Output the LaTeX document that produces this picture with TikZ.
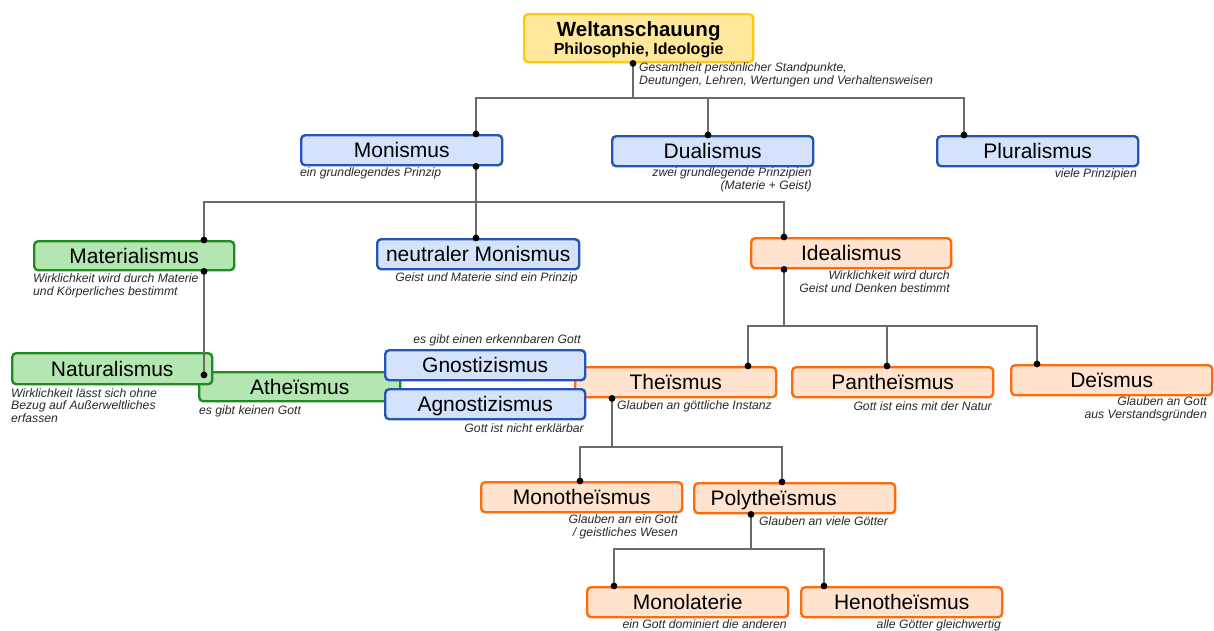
\documentclass[tikz,border=0pt]{standalone}
\usepackage{fontspec}
\setmainfont{Liberation Sans}
\definecolor{fillblue}{HTML}{D4E3FB}
\definecolor{drawblue}{HTML}{2455B5}
\definecolor{fillgreen}{HTML}{B4E6B2}
\definecolor{drawgreen}{HTML}{1F8C22}
\definecolor{fillorange}{HTML}{FFE3CF}
\definecolor{draworange}{HTML}{FF6A0A}
\definecolor{fillyellow}{HTML}{FFE89B}
\definecolor{drawyellow}{HTML}{FFC80A}
\definecolor{linegray}{HTML}{6A6A6A}
\definecolor{notegray}{HTML}{2A2A2A}
\tikzset{
  box/.style={rectangle, rounded corners=4pt, line width=2.4pt, minimum width=201pt,
    minimum height=30pt, inner sep=0pt, anchor=north west, text=black,
    font=\fontsize{21}{21}\selectfont, text height=15pt, text depth=0pt},
  bluebox/.style={box, draw=drawblue, fill=fillblue},
  greenbox/.style={box, draw=drawgreen, fill=fillgreen},
  orangebox/.style={box, draw=draworange, fill=fillorange},
  yellowbox/.style={rectangle, rounded corners=4pt, line width=2.4pt, inner sep=0pt,
    anchor=north west, draw=drawyellow, fill=fillyellow, text=black, align=center,
    font=\bfseries\fontsize{16}{17.3}\selectfont, text depth=0pt},
  note/.style={font=\itshape\fontsize{12.2}{12.3}\selectfont, text=notegray, inner sep=0pt},
  noteL/.style={note, align=left, anchor=base west},
  noteR/.style={note, align=right, anchor=base east},
  conn/.style={draw=linegray, line width=2.6pt},
  jdot/.style={fill=black}
}
\begin{document}
\begin{tikzpicture}[x=1pt,y=-1pt]
\useasboundingbox (0,0) rectangle (1214,630);
\fill[white] (0,0) rectangle (1214,630);

% boxes
\node[yellowbox, minimum width=229pt, minimum height=48pt] (welt) at (523,13)
  {{\fontsize{20.5}{17.3}\selectfont Weltanschauung}\\Philosophie, Ideologie};
\node[bluebox] (mon) at (300,134) {Monismus};
\node[bluebox] (dual) at (611,135) {Dualismus};
\node[bluebox] (plur) at (936,135) {Pluralismus};
\node[greenbox, minimum width=200pt, minimum height=29pt] (mat) at (33,240) {Materialismus};
\node[bluebox, minimum width=202pt] (neut) at (376,238) {neutraler Monismus};
\node[orangebox, minimum width=200pt] (ideal) at (750,237) {Idealismus};
\node[greenbox, minimum height=29pt] (ath) at (198,371) {Atheïsmus};
\node[greenbox, minimum width=200pt, minimum height=31pt] (nat) at (11,352) {Naturalismus};
\node[orangebox] (thei) at (574,366) {Theïsmus};
\node[bluebox, minimum width=200pt] (gnos) at (384,349) {Gnostizismus};
\node[bluebox, minimum width=200pt] (agn) at (384,388) {Agnostizismus};
\node[orangebox] (pan) at (791,366) {Pantheïsmus};
\node[orangebox] (dei) at (1010,364) {Deïsmus};
\node[orangebox] (mono) at (480,481) {Monotheïsmus};
\node[orangebox] (poly) at (693,482) {\hspace*{-42pt}Polytheïsmus};
\node[orangebox] (monol) at (586,586) {Monolaterie};
\node[orangebox] (heno) at (800,586) {Henotheïsmus};

% notes (base anchor = baseline of the last line)
\node[noteL] (nwelt) at (639,84) {Gesamtheit persönlicher Standpunkte,\\Deutungen, Lehren, Wertungen und Verhaltensweisen};
\node[noteL] (nmon) at (300,176) {ein grundlegendes Prinzip};
\node[noteR] (ndual) at (812,189) {zwei grundlegende Prinzipien\\(Materie + Geist)};
\node[noteR] (nplur) at (1137,177) {viele Prinzipien};
\node[noteL] (nmat) at (33,295) {Wirklichkeit wird durch Materie\\und Körperliches bestimmt};
\node[noteR] (nneut) at (578,281) {Geist und Materie sind ein Prinzip};
\node[noteR] (nideal) at (950,292) {Wirklichkeit wird durch\\Geist und Denken bestimmt};
\node[noteL] (nnat) at (11,422) {Wirklichkeit lässt sich ohne\\Bezug auf Außerweltliches\\erfassen};
\node[noteL] (nath) at (199,414) {es gibt keinen Gott};
\node[noteR] (ngnos) at (581,343) {es gibt einen erkennbaren Gott};
\node[noteR] (nagn) at (584,432) {Gott ist nicht erklärbar};
\node[noteL] (nthei) at (617,409) {Glauben an göttliche Instanz};
\node[noteR] (npan) at (992,410) {Gott ist eins mit der Natur};
\node[noteR] (ndei) at (1207,418) {Glauben an Gott\\aus Verstandsgründen};
\node[noteR] (nmono) at (678,536) {Glauben an ein Gott\\/ geistliches Wesen};
\node[noteL] (npoly) at (759,525) {Glauben an viele Götter};
\node[noteR] (nmonol) at (787,628) {ein Gott dominiert die anderen};
\node[noteR] (nheno) at (1001,628) {alle Götter gleichwertig};

% junction points on the boxes
\coordinate (wb) at (633,0 |- welt.south);
\coordinate (mt) at (476,0 |- mon.north);
\coordinate (mb) at (476,0 |- mon.south);
\coordinate (dt) at (708,0 |- dual.north);
\coordinate (pt) at (964,0 |- plur.north);
\coordinate (matt) at (204,0 |- mat.north);
\coordinate (matb) at (204,0 |- mat.south);
\coordinate (neutt) at (476,0 |- neut.north);
\coordinate (idt) at (784,0 |- ideal.north);
\coordinate (idb) at (784,0 |- ideal.south);
\coordinate (natj) at (204,375);
\coordinate (theit) at (748,0 |- thei.north);
\coordinate (theib) at (612,0 |- thei.south);
\coordinate (pant) at (887,0 |- pan.north);
\coordinate (deit) at (1037,0 |- dei.north);
\coordinate (monot) at (580,0 |- mono.north);
\coordinate (polyt) at (782,0 |- poly.north);
\coordinate (polyb) at (751,0 |- poly.south);
\coordinate (monolt) at (614,0 |- monol.north);
\coordinate (henot) at (824,0 |- heno.north);
\coordinate (bus1) at (0,98);
\coordinate (bus2) at (0,202);
\coordinate (bus3) at (0,326);
\coordinate (bus4) at (0,447);
\coordinate (bus5) at (0,549);

% connectors
\draw[conn] (wb) -- (wb |- bus1);
\draw[conn] (mt) -- (mt |- bus1) -- (pt |- bus1) -- (pt);
\draw[conn] (dt) -- (dt |- bus1);
\draw[conn] (mb) -- (neutt);
\draw[conn] (matt) -- (matt |- bus2) -- (idt |- bus2) -- (idt);
\draw[conn] (matb) -- (natj);
\draw[conn] (idb) -- (idb |- bus3);
\draw[conn] (theit) -- (theit |- bus3) -- (deit |- bus3) -- (deit);
\draw[conn] (pant) -- (pant |- bus3);
\draw[conn] (theib) -- (theib |- bus4);
\draw[conn] (monot) -- (monot |- bus4) -- (polyt |- bus4) -- (polyt);
\draw[conn] (polyb) -- (polyb |- bus5);
\draw[conn] (monolt) -- (monolt |- bus5) -- (henot |- bus5) -- (henot);

% dots
\foreach \p in {wb,mt,mb,dt,pt,matt,matb,neutt,idt,idb,natj,theit,theib,pant,deit,monot,polyt,polyb,monolt,henot}
  \fill[jdot] (\p) circle (3.4pt);
\end{tikzpicture}
\end{document}
